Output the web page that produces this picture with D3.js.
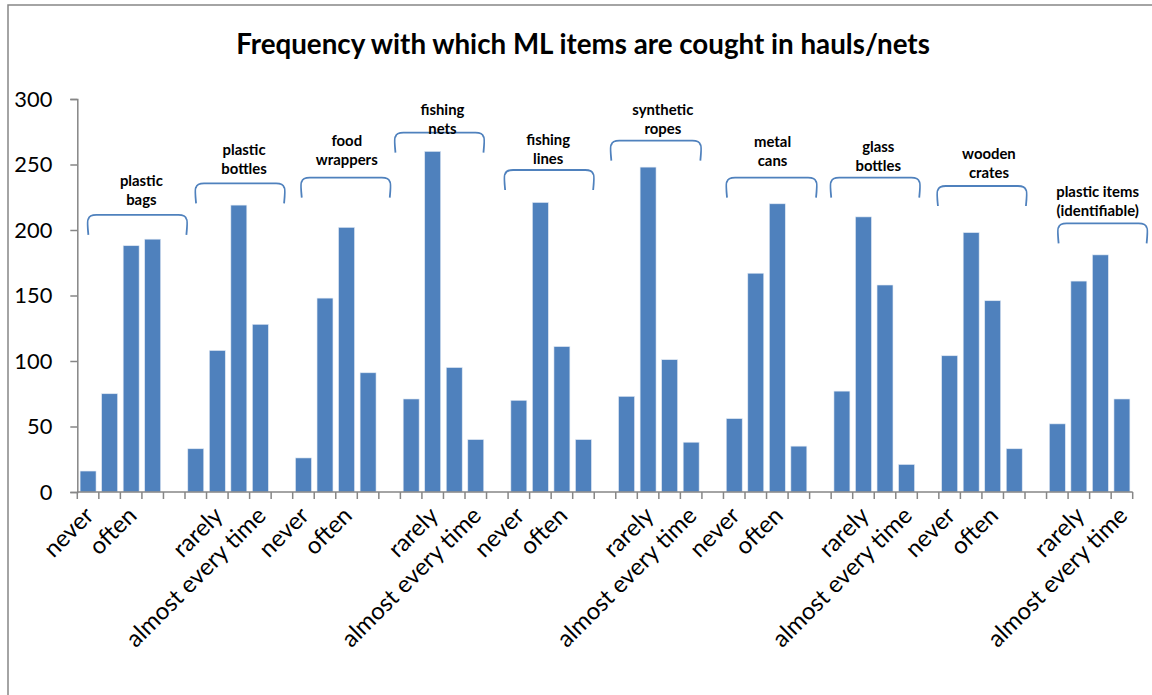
<!DOCTYPE html>
<html>
<head>
<meta charset="utf-8">
<script src="https://cdn.jsdelivr.net/npm/d3@7"></script>
<style>
  html, body { margin: 0; padding: 0; background: #fff; }
  svg { display: block; }
</style>
</head>
<body>
<svg id="chart" width="1152" height="695"></svg>
<script>
// ---------------- data ----------------
const title = "Frequency with which ML items are cought in hauls/nets";
const categories = ["never", "rarely", "often", "almost every time"];
const groupLabels = [
  ["plastic", "bags"],
  ["plastic", "bottles"],
  ["food", "wrappers"],
  ["fishing", "nets"],
  ["fishing", "lines"],
  ["synthetic", "ropes"],
  ["metal", "cans"],
  ["glass", "bottles"],
  ["wooden", "crates"],
  ["plastic items", "(identifiable)"]
];
const plasticBags    = [16, 75, 188, 193];
const plasticBottles = [33, 108, 219, 128];
const foodWrappers   = [26, 148, 202, 91];
const fishingNets    = [71, 260, 95, 40];
const fishingLines   = [70, 221, 111, 40];
const syntheticRopes = [73, 248, 101, 38];
const metalCans      = [56, 167, 220, 35];
const glassBottles   = [77, 210, 158, 21];
const woodenCrates   = [104, 198, 146, 33];
const plasticItems   = [52, 161, 181, 71];
const seriesValues = [plasticBags, plasticBottles, foodWrappers, fishingNets, fishingLines,
                      syntheticRopes, metalCans, glassBottles, woodenCrates, plasticItems];
const yTicks = [0, 50, 100, 150, 200, 250, 300];

// bracket annotations (value units for heights, px offsets from group centre)
const bracketTop   = [211.5, 235.6, 240, 274.3, 245.8, 268.2, 240, 240, 233.6, 205.1];
const labelLine1   = [237.4, 261, 268, 292, 269.2, 292, 267, 263.6, 258, 229.2];
const bracketDx    = [17, 12, 10, -4, -2, -3, 5, 1, 0, 13];
const bracketW     = [98, 88, 88, 88, 88, 89, 89, 88, 88, 88];
const labelDx      = [21, 16, 11, -1, -3, 4, 6, 4, 7, 8];

// ---------------- layout ----------------
const svg = d3.select("#chart");
const FONT = "Lato, 'Open Sans', sans-serif";
const BLUE = "#4F81BD";
const AXIS = "#868686";
const plot = { left: 77.3, right: 1132.7, top: 99, bottom: 492 };

// slots: 4 bars per group + an empty slot between groups
const slots = [];
seriesValues.forEach((vals, g) => {
  vals.forEach((v, i) => slots.push({ key: g + "-" + i, group: g, cat: categories[i], value: v }));
  if (g < seriesValues.length - 1) slots.push({ key: "gap-" + g, group: g, cat: "", value: null });
});

const x = d3.scaleBand()
  .domain(slots.map(d => d.key))
  .range([plot.left, plot.right])
  .paddingInner(0.26)
  .paddingOuter(0.13);
const step = x.step();
const y = d3.scaleLinear().domain([0, 300]).range([plot.bottom, plot.top]);

// helper to fit font sizes to measured widths
function fitSize(text, weight, target) {
  const t = svg.append("text").attr("font-family", FONT).attr("font-weight", weight)
    .attr("font-size", 100).text(text);
  const w = t.node().getComputedTextLength();
  t.remove();
  return 100 * target / w;
}
const titleSize = fitSize(title, "bold", 694);
const axisSize = fitSize("almost every time", "normal", 186);
const tickSize = fitSize("300", "normal", 38);
const annSize = fitSize("plastic", "bold", 43);

// border
svg.append("rect")
  .attr("x", 8).attr("y", 5).attr("width", 1170).attr("height", 720)
  .attr("fill", "none").attr("stroke", AXIS).attr("stroke-width", 1.5);

// title
svg.append("text")
  .attr("x", 583).attr("y", 54)
  .attr("text-anchor", "middle")
  .attr("font-family", FONT).attr("font-weight", "bold")
  .attr("font-size", titleSize).attr("fill", "#000")
  .text(title);

// bars
svg.append("g").selectAll("rect")
  .data(slots.filter(d => d.value !== null))
  .join("rect")
  .attr("x", d => x(d.key))
  .attr("width", x.bandwidth())
  .attr("y", d => y(d.value))
  .attr("height", d => y(0) - y(d.value))
  .attr("fill", BLUE)
  .attr("stroke", "#dfe8f3").attr("stroke-width", 0.6);

// y axis
const yAxis = svg.append("g").attr("transform", `translate(${plot.left},0)`)
  .call(d3.axisLeft(y).tickValues(yTicks).tickSize(7).tickPadding(18).tickFormat(d3.format("d")));
yAxis.select(".domain").attr("stroke", AXIS).attr("stroke-width", 1.5);
yAxis.selectAll(".tick line").attr("stroke", AXIS).attr("stroke-width", 1.5);
yAxis.selectAll(".tick text").attr("font-family", FONT).attr("font-size", tickSize).attr("fill", "#000");

// x axis: line + ticks at slot boundaries
const xg = svg.append("g");
xg.append("line")
  .attr("x1", plot.left).attr("x2", plot.right)
  .attr("y1", y(0)).attr("y2", y(0))
  .attr("stroke", AXIS).attr("stroke-width", 1.5);
const boundaries = slots.map(d => x(d.key) - step * x.paddingInner() / 2).concat([plot.right]);
xg.selectAll("line.tk").data(boundaries).join("line").attr("class", "tk")
  .attr("x1", d => d).attr("x2", d => d)
  .attr("y1", y(0)).attr("y2", y(0) + 7)
  .attr("stroke", AXIS).attr("stroke-width", 1.5);

// x labels, every other slot
xg.selectAll("text").data(slots.filter((d, i) => i % 2 === 0 && d.cat !== ""))
  .join("text")
  .attr("transform", d => `translate(${x(d.key) + x.bandwidth() / 2 + 7},${y(0) + 25}) rotate(-45)`)
  .attr("text-anchor", "end")
  .attr("font-family", FONT).attr("font-size", axisSize).attr("fill", "#000")
  .text(d => d.cat);

// bracket annotations
const ann = svg.append("g");
groupLabels.forEach((lines, g) => {
  const first = x(g + "-0"), last = x(g + "-3") + x.bandwidth();
  const cx = (first + last) / 2;
  const bx = cx + bracketDx[g], hw = bracketW[g] / 2;
  const top = y(bracketTop[g]), bot = top + 20, r = 8;
  const p = d3.path();
  p.moveTo(bx - hw, bot);
  p.quadraticCurveTo(bx - hw - 1.5, top + r * 0.6, bx - hw, top + r * 0.5);
  p.quadraticCurveTo(bx - hw + 1, top, bx - hw + r, top);
  p.lineTo(bx + hw - r, top);
  p.quadraticCurveTo(bx + hw - 1, top, bx + hw, top + r * 0.5);
  p.quadraticCurveTo(bx + hw + 1.5, top + r * 0.6, bx + hw, bot);
  ann.append("path").attr("d", p.toString())
    .attr("fill", "none").attr("stroke", BLUE).attr("stroke-width", 1.8);
  const lx = cx + labelDx[g];
  const ly = y(labelLine1[g]);
  lines.forEach((ln, k) => {
    ann.append("text")
      .attr("x", lx).attr("y", ly + k * 19)
      .attr("dy", "0.35em")
      .attr("text-anchor", "middle")
      .attr("font-family", FONT).attr("font-weight", "bold")
      .attr("font-size", annSize).attr("fill", "#000")
      .text(ln);
  });
});
</script>
</body>
</html>
